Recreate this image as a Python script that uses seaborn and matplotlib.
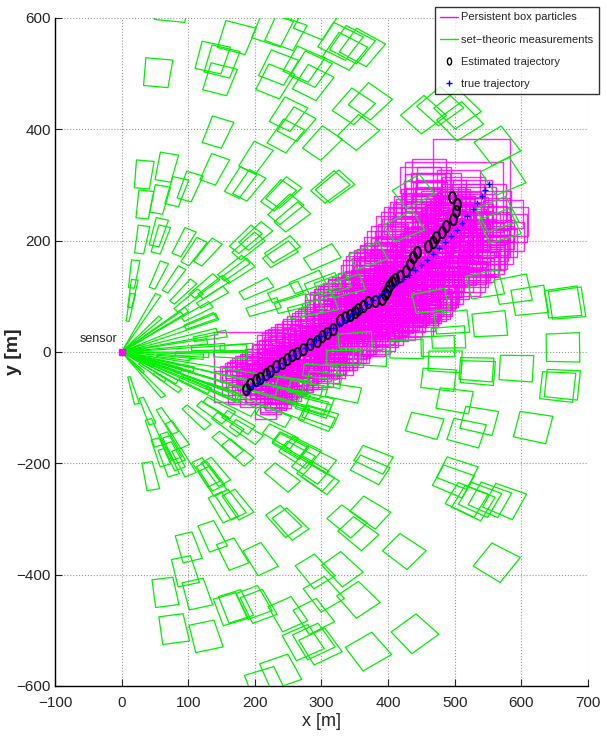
import numpy as np
import matplotlib
matplotlib.use("Agg")
import matplotlib.pyplot as plt
import seaborn as sns
from matplotlib.collections import PolyCollection
from matplotlib.path import Path
from matplotlib.lines import Line2D

# set-theoretic measurement box centres (m)
meas_x = [75, 54, 136, 150, 147, 172, 226, 246, 235, 273, 284, 230, 287, 291, 328, 346, 361, 335,
          144, 246, 262, 250, 348, 373, 301, 355, 453, 478, 504, 508, 564,
          33, 67, 57, 34, 82, 102, 139, 178, 191, 201, 235, 243, 246, 256, 313, 320, 438, 573,
          30, 58, 55, 93, 108, 186, 201, 190, 241, 129, 238, 301, 370, 564, 568, 424,
          18, 16, 13, 55, 78, 92, 100, 113, 118, 124, 138, 168, 136, 175, 202, 213, 246, 256, 276,
          279, 302, 317, 338, 298, 464, 546, 588, 613, 663, 669, 496, 553, 491, 475, 428, 663,
          133, 130, 163, 173, 78, 106, 48, 46, 68, 110, 17, 373, 351, 333, 298, 305, 333, 258, 276, 256, 152,
          486, 476, 533, 535, 593, 655, 662,
          38, 48, 68, 83, 112, 136, 146, 159, 159, 175, 187, 228, 238, 253, 283, 293, 288, 298, 78,
          500, 455, 518, 537, 618,
          58, 73, 78, 70, 43, 93, 174, 126, 133, 141, 136, 152, 163, 174, 253, 263, 272, 241, 291,
          294, 283, 378, 373, 504, 498, 298,
          518, 528, 538, 553, 575, 563, 424, 338, 373, 355, 243, 253, 136, 166, 208, 100, 290, 331,
          95, 65, 113, 303, 355, 163, 171, 198, 205, 249, 288, 78, 126, 272, 288, 298, 370, 440, 238, 215]
meas_y = [620, 502, 529, 522, 490, 565, 580, 574, 511, 517, 508, 486, 484, 594, 558, 552, 547, 540,
          395, 388, 409, 427, 441, 450, 375, 394, 426, 441, 436, 414, 370,
          319, 332, 274, 265, 288, 297, 328, 304, 299, 349, 281, 286, 256, 242, 296, 297, 288, 315,
          202, 202, 215, 197, 180, 202, 208, 190, 184, 179, 175, 170, 172, 247, 226, 225,
          140, 105, 80, 138, 130, 108, 92, 72, 55, 118, 116, 150, 98, 145, 113, 80, 107, 86, 76,
          125, 121, 121, 118, 82, 91, 121, 112, 92, 89, 87, 53, 50, 26, 10, 5, 8,
          28, 8, -4, 7, -9, -4, -18, -36, -54, -58, -69, -10, 21, -10, -35, -49, -73, -58, -67, -81, -71,
          -17, -49, -31, -37, -29, -62, -58,
          -106, -145, -124, -148, -117, -108, -100, -130, -166, -126, -143, -115, -151, -166, -94, -121, -99, -115, -175,
          -87, -132, -145, -123, -135,
          -180, -169, -187, -198, -223, -198, -180, -216, -223, -215, -232, -279, -274, -274, -169, -184, -175, -225, -223,
          -193, -211, -193, -211, -217, -232, -229,
          -265, -271, -265, -265, -268, -378, -358, -304, -288, -326, -304, -309, -331, -363, -372, -351, -394, -390,
          -394, -432, -435, -435, -445, -462, -457, -450, -457, -471, -475, -498, -511, -522, -520, -529, -538, -506, -575, -597]

# measurements whose range interval reaches the sensor: outer range (m), bearing (deg)
fan_range = [117, 85, 114, 124, 157, 148, 130, 188, 123, 113, 172, 197, 226, 99, 102, 54, 49, 96, 280, 330, 300]
fan_bearing = [62, 47, 37, 38, 24, 14.5, 8.5, 2, -4, -16, -21.5, -25.5, -28.6, -33, -52, -28, -48, -20, -13, -17, -22]

# estimated trajectory (m)
est_x = [186, 193, 201, 208, 216, 223, 231, 241, 249, 256, 264, 273, 283, 294, 301, 309, 318, 328, 335,
         343, 350, 355, 362, 370, 380, 391, 395, 398, 401, 406, 410, 418, 427, 433, 438, 444, 460, 467,
         472, 481, 487, 497, 502, 503, 496]
est_y = [-67, -58, -51, -47, -40, -35, -26, -19, -13, -6, -2, 5, 14, 19, 28, 34, 41, 57, 62,
         66, 71, 77, 82, 89, 91, 96, 104, 109, 118, 125, 131, 136, 145, 158, 170, 179, 190, 197,
         206, 215, 226, 238, 253, 265, 278]

# true trajectory (m)
true_x = [188, 196, 204, 211, 219, 227, 235, 243, 251, 259, 267, 275, 284, 292, 300, 309, 317, 326, 334,
          343, 351, 360, 368, 377, 386, 395, 404, 413, 422, 431, 440, 449, 458, 467, 476, 485, 494, 503,
          511, 519, 527, 534, 541, 546, 551]
true_y = [-70, -62, -55, -48, -41, -34, -27, -20, -13, -6, 1, 8, 15, 22, 29, 36, 43, 50, 57,
          64, 71, 78, 86, 93, 101, 108, 116, 124, 131, 139, 147, 156, 166, 176, 186, 197, 208, 220,
          232, 244, 256, 268, 280, 291, 301]

# persistent box particles: offsets and half sizes around each estimate (m)
particle_dx = [-28, -14, 0, 12, 24, 36, 6, 18, -6, 30, 45, -20]
particle_dy = [18, 8, -4, -16, -6, -28, 14, 4, -10, -40, -18, 28]
particle_hw = [18, 22, 16, 20, 24, 15, 19, 17, 21, 16, 18, 15]
particle_hh = [14, 18, 13, 16, 20, 12, 15, 14, 17, 13, 15, 12]
particle_spread = [1.0, 1.15, 1.3, 1.5, 1.7]
# a few large particle boxes (x0, x1, y0, y1)
wide_box_x0 = [138, 467, 425]
wide_box_x1 = [246, 583, 572]
wide_box_y0 = [-90, 202, 215]
wide_box_y1 = [35, 382, 342]

RANGE_HALF = 25.0
BEARING_HALF = np.deg2rad(2.2)


def polar_box(r, th):
    r0 = max(r - RANGE_HALF, 0.0)
    r1 = r + RANGE_HALF
    a0, a1 = th - BEARING_HALF, th + BEARING_HALF
    return [(r0 * np.cos(a0), r0 * np.sin(a0)), (r1 * np.cos(a0), r1 * np.sin(a0)),
            (r1 * np.cos(a1), r1 * np.sin(a1)), (r0 * np.cos(a1), r0 * np.sin(a1))]


def rect(x0, x1, y0, y1):
    return [(x0, y0), (x1, y0), (x1, y1), (x0, y1)]


sns.set_style("white")
plt.rcParams['font.family'] = ['Liberation Sans', 'DejaVu Sans']

fig = plt.figure(figsize=(6.07, 7.40), dpi=100)
ax = fig.add_axes([0.0906, 0.0730, 0.878, 0.9027])

# particle boxes
pink = []
n = len(est_x)
for k in range(n):
    s = particle_spread[min(k * len(particle_spread) // n, len(particle_spread) - 1)]
    for dx, dy, hw, hh in zip(particle_dx, particle_dy, particle_hw, particle_hh):
        cx = est_x[k] + dx * s
        cy = est_y[k] + dy * s
        pink.append(rect(cx - hw * s, cx + hw * s, cy - hh * s, cy + hh * s))
for x0, x1, y0, y1 in zip(wide_box_x0, wide_box_x1, wide_box_y0, wide_box_y1):
    pink.append(rect(x0, x1, y0, y1))
ax.add_collection(PolyCollection(pink, facecolors='none', edgecolors=(1, 0, 1, 0.85),
                                 linewidths=1.0, zorder=2))

# measurement boxes
green = []
for mx, my in zip(meas_x, meas_y):
    green.append(polar_box(np.hypot(mx, my), np.arctan2(my, mx)))
for r, b in zip(fan_range, fan_bearing):
    a = np.deg2rad(b)
    green.append([(0, 0), (r * np.cos(a - BEARING_HALF), r * np.sin(a - BEARING_HALF)),
                  (r * np.cos(a + BEARING_HALF), r * np.sin(a + BEARING_HALF))])
ax.add_collection(PolyCollection(green, facecolors='none', edgecolors='#00f000',
                                 linewidths=0.9, zorder=3))

# narrow ellipse marker like the squeezed circles
t = np.linspace(0, 2 * np.pi, 40)
oval = Path(np.column_stack([0.6 * np.cos(t), np.sin(t)]), closed=True)

sns.lineplot(x=est_x, y=est_y, ax=ax, sort=False, estimator=None, linestyle='',
             marker=oval, markersize=8, markerfacecolor='none', markeredgecolor='black',
             markeredgewidth=1.5, zorder=5)
sns.lineplot(x=true_x, y=true_y, ax=ax, sort=False, estimator=None, linestyle='',
             marker='+', markersize=5, markeredgecolor='blue', markeredgewidth=1.0, zorder=6)

# sensor
ax.plot([0], [0], marker='s', markersize=4, color='magenta', zorder=7)
ax.text(-7, 12, 'sensor', ha='right', va='bottom', fontsize=9)

ax.set_xlim(-100, 700)
ax.set_ylim(-600, 600)
ax.set_xticks(range(-100, 701, 100))
ax.set_yticks(range(-600, 601, 200))
ax.grid(True, linestyle=':', color='#999999', linewidth=0.8)
ax.tick_params(direction='in', length=5, labelsize=11, left=True, bottom=True, pad=3)
ax.tick_params(axis='x', pad=7)
for side in ['top', 'right']:
    ax.spines[side].set_visible(False)
for side in ['left', 'bottom']:
    ax.spines[side].set_color('black')
    ax.spines[side].set_linewidth(1.0)
ax.set_xlabel('x [m]', fontsize=13)
ax.xaxis.set_label_coords(0.5, -0.04)
ax.set_ylabel('y [m]', fontsize=14, fontweight='bold')
ax.yaxis.set_label_coords(-0.062, 0.5)

handles = [Line2D([], [], color='magenta', lw=1.0),
           Line2D([], [], color='#00f000', lw=1.0),
           Line2D([], [], linestyle='', marker=oval, markersize=5, markerfacecolor='none',
                  markeredgecolor='black', markeredgewidth=1.0),
           Line2D([], [], linestyle='', marker='+', markersize=5, markeredgecolor='blue')]
labels = ['Persistent box particles', 'set\u2212theoric measurements', 'Estimated trajectory',
          'true trajectory']
leg = fig.legend(handles, labels, loc='upper right', bbox_to_anchor=(0.986, 0.990),
                 fontsize=8, frameon=True, fancybox=False, edgecolor='black',
                 labelspacing=1.1, handlelength=1.6, handletextpad=0.3, borderpad=0.45,
                 borderaxespad=0.0)
leg.get_frame().set_linewidth(1.0)

fig.savefig('out.png', dpi=100)
